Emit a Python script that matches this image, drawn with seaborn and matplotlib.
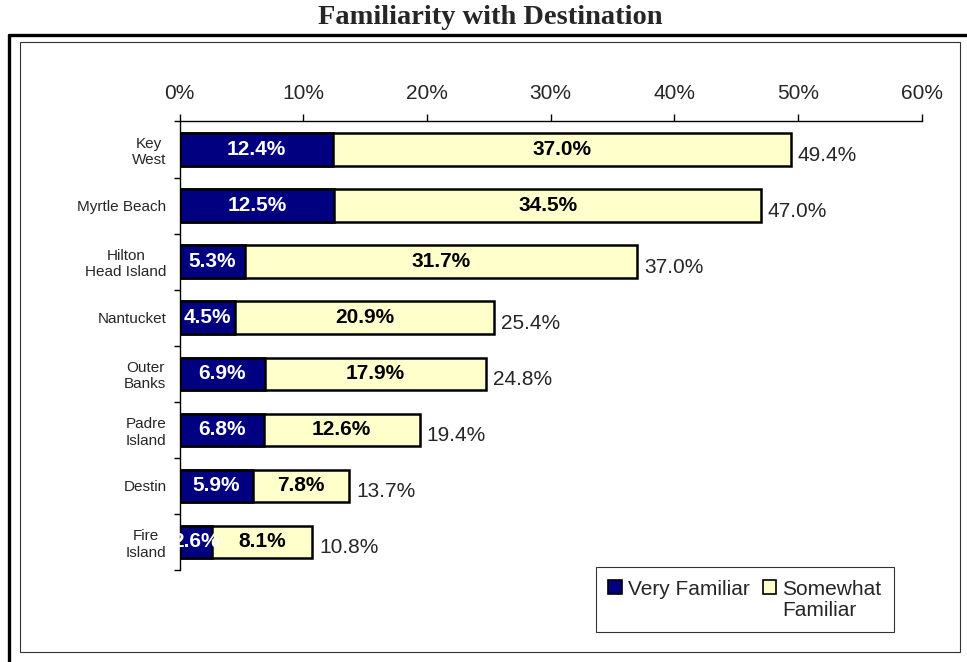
import matplotlib
matplotlib.use("Agg")
import matplotlib.pyplot as plt
from matplotlib.patches import Patch, Rectangle
from matplotlib.lines import Line2D
import seaborn as sns
import pandas as pd

# data
destinations = ["Key\nWest", "Myrtle Beach", "Hilton\nHead Island", "Nantucket",
                "Outer\nBanks", "Padre\nIsland", "Destin", "Fire\nIsland"]
very_familiar = [12.4, 12.5, 5.3, 4.5, 6.9, 6.8, 5.9, 2.6]
somewhat_familiar = [37.0, 34.5, 31.7, 20.9, 17.9, 12.6, 7.8, 8.1]
total_labels = ["49.4%", "47.0%", "37.0%", "25.4%", "24.8%", "19.4%", "13.7%", "10.8%"]
x_ticks = [0, 10, 20, 30, 40, 50, 60]

navy = "#000080"
cream = "#FFFFCC"

df = pd.DataFrame({"dest": destinations, "very": very_familiar, "somewhat": somewhat_familiar})
df["total"] = df["very"] + df["somewhat"]

sns.set_style("white")
plt.rcParams["font.family"] = ["Liberation Sans", "DejaVu Sans"]

fig = plt.figure(figsize=(9.67, 6.62), dpi=100)
ax = fig.add_axes([0.1858, 0.1390, 0.7673, 0.6775])

# stacked bars: full length in cream, navy part drawn over it
sns.barplot(data=df, x="total", y="dest", orient="h", color=cream, width=0.58,
            edgecolor="black", linewidth=1.8, saturation=1, ax=ax)
sns.barplot(data=df, x="very", y="dest", orient="h", color=navy, width=0.58,
            edgecolor="black", linewidth=1.8, saturation=1, ax=ax)

for i, row in df.iterrows():
    ax.text(row["very"] / 2, i, f"{row['very']:.1f}%", color="white", fontsize=15,
            fontweight="bold", ha="center", va="center")
    ax.text(row["very"] + row["somewhat"] / 2, i, f"{row['somewhat']:.1f}%", color="black",
            fontsize=15, fontweight="bold", ha="center", va="center")
    ax.annotate(total_labels[i], (row["total"], i), xytext=(5, -4), textcoords="offset points",
                fontsize=15, ha="left", va="center")

ax.set_xlim(0, 60)
ax.set_ylim(7.5, -0.5)
ax.set_xticks(x_ticks)
ax.set_xticklabels([f"{t}%" for t in x_ticks], fontsize=15)
ax.xaxis.tick_top()
ax.tick_params(axis="x", top=True, direction="out", length=5, width=1, pad=8, color="black")
ax.set_yticks(range(len(destinations)))
ax.set_yticklabels(destinations, fontsize=11, multialignment="center")
ax.tick_params(axis="y", which="major", length=0, pad=9.5)
ax.set_yticks([i - 0.5 for i in range(len(destinations) + 1)], minor=True)
ax.tick_params(axis="y", which="minor", left=True, direction="out", length=4, width=1, color="black")
ax.set_xlabel("")
ax.set_ylabel("")
for s in ["right", "bottom"]:
    ax.spines[s].set_visible(False)
for s in ["top", "left"]:
    ax.spines[s].set_color("black")
    ax.spines[s].set_linewidth(1)

fig.text(0.5067, 0.973, "Familiarity with Destination", family="Liberation Serif",
         fontweight="bold", fontsize=20.5, ha="center", va="center")

# frames
fig.add_artist(Line2D([0.0093, 0.0093], [0, 0.947], color="black", lw=2.4, transform=fig.transFigure))
fig.add_artist(Line2D([0.0093, 1], [0.947, 0.947], color="black", lw=2.4, transform=fig.transFigure))
fig.add_artist(Rectangle((0.0206, 0.0151), 0.972, 0.9215, fill=False, edgecolor="#333333",
                         lw=0.8, transform=fig.transFigure))

# legend: second column holds a wrapped label, so pad with blank entries
blank = Patch(facecolor="none", edgecolor="none")
handles = [Patch(facecolor=navy, edgecolor="black", lw=1.2), blank,
           Patch(facecolor=cream, edgecolor="black", lw=1.2), blank]
labels = ["Very Familiar", " ", "Somewhat", "Familiar"]
leg = fig.legend(handles, labels, ncol=2, loc="upper left",
                 bbox_to_anchor=(0.6163, 0.1435), fontsize=15,
                 frameon=True, fancybox=False, shadow=False, handlelength=0.65,
                 handleheight=0.65, handletextpad=0.3, columnspacing=0.6,
                 labelspacing=0.1, borderpad=0.6, borderaxespad=0, edgecolor="black")
leg.get_frame().set_linewidth(0.8)

fig.savefig("out.png", dpi=100)
